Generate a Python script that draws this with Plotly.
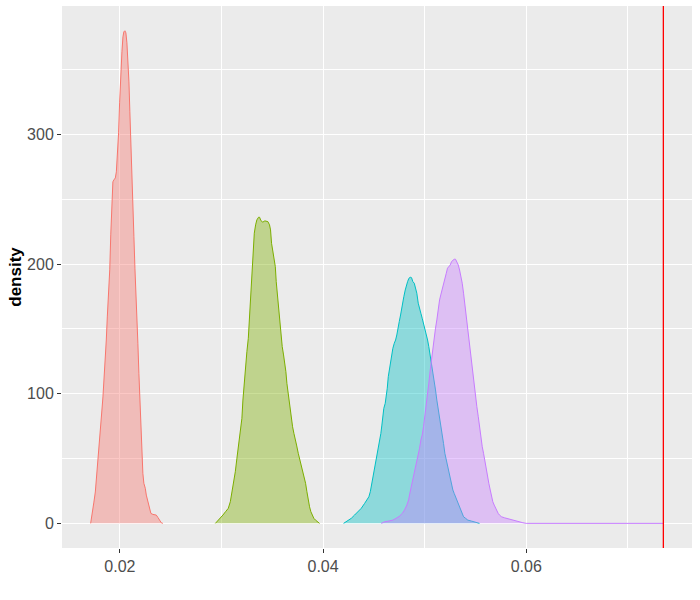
import plotly.graph_objects as go

# ---- data (x = value, y = density) ----
red_x = [0.01712, 0.01724, 0.01734, 0.01744, 0.01758, 0.01768, 0.01778, 0.01790, 0.01800, 0.01813,
         0.01823, 0.01833, 0.01843, 0.01856, 0.01866, 0.01876, 0.01890, 0.01900, 0.01910, 0.01921,
         0.01931, 0.01941, 0.01955, 0.01965, 0.01974, 0.01987, 0.01997, 0.02007, 0.02020, 0.02030,
         0.02039, 0.02049, 0.02059, 0.02069, 0.02079, 0.02089, 0.02098, 0.02112, 0.02122, 0.02128,
         0.02138, 0.02148, 0.02157, 0.02167, 0.02177, 0.02187, 0.02197, 0.02207, 0.02217, 0.02226,
         0.02236, 0.02250, 0.02260, 0.02273, 0.02282, 0.02292, 0.02305, 0.02325, 0.02358, 0.02374,
         0.02391, 0.02407, 0.02423]
red_y = [0.0, 7.9, 11.8, 16.4, 24.2, 35.0, 42.7, 55.0, 66.6, 77.4,
         87.4, 97.5, 109.0, 123.7, 141.4, 159.2, 177.7, 195.5, 222.5, 249.5,
         263.4, 264.9, 266.4, 271.1, 280.3, 301.2, 324.3, 345.9, 363.7, 375.2,
         379.1, 379.9, 378.3, 370.6, 357.5, 340.5, 317.4, 288.0, 262.0, 254.6,
         221.1, 196.8, 181.3, 162.0, 138.9, 115.7, 93.8, 73.3, 56.6, 38.6,
         30.9, 27.0, 21.8, 18.0, 14.1, 10.3, 7.7, 6.9, 6.4, 4.6,
         2.5, 0.5, 0.0]

green_x = [0.02940, 0.02965, 0.02988, 0.03014, 0.03040, 0.03067, 0.03087, 0.03102, 0.03119, 0.03136,
           0.03152, 0.03168, 0.03185, 0.03201, 0.03211, 0.03224, 0.03237, 0.03250, 0.03264, 0.03274,
           0.03283, 0.03293, 0.03303, 0.03313, 0.03323, 0.03336, 0.03348, 0.03365, 0.03375, 0.03388,
           0.03407, 0.03427, 0.03457, 0.03473, 0.03483, 0.03493, 0.03506, 0.03520, 0.03530, 0.03539,
           0.03549, 0.03559, 0.03569, 0.03579, 0.03589, 0.03598, 0.03611, 0.03624, 0.03634, 0.03644,
           0.03657, 0.03667, 0.03677, 0.03687, 0.03700, 0.03713, 0.03726, 0.03739, 0.03756, 0.03772,
           0.03788, 0.03801, 0.03815, 0.03828, 0.03841, 0.03854, 0.03867, 0.03880, 0.03894, 0.03909,
           0.03926, 0.03943, 0.03959, 0.03965]
green_y = [0.0, 2.0, 3.9, 6.4, 9.0, 11.6, 16.7, 23.1, 32.1, 39.8,
           50.2, 59.1, 72.0, 81.0, 95.1, 109.3, 120.8, 132.4, 142.7, 156.9,
           172.3, 186.4, 200.6, 212.2, 223.8, 230.2, 234.0, 236.1, 236.1, 233.5,
           232.3, 233.3, 232.7, 230.2, 226.3, 216.0, 209.6, 204.5, 198.0, 186.4,
           177.5, 167.1, 156.9, 147.8, 141.4, 136.3, 129.9, 123.5, 117.0, 108.0,
           100.3, 92.6, 84.9, 78.4, 74.5, 69.4, 65.6, 60.4, 54.0, 48.8,
           45.0, 39.8, 34.7, 30.9, 24.4, 18.0, 12.8, 9.0, 6.4, 3.9,
           2.5, 1.2, 0.5, 0.0]

cyan_x = [0.04202, 0.04244, 0.04278, 0.04310, 0.04343, 0.04376, 0.04409, 0.04431, 0.04451, 0.04465,
          0.04477, 0.04490, 0.04504, 0.04520, 0.04533, 0.04546, 0.04556, 0.04569, 0.04579, 0.04589,
          0.04598, 0.04612, 0.04622, 0.04632, 0.04642, 0.04655, 0.04664, 0.04674, 0.04687, 0.04701,
          0.04714, 0.04726, 0.04736, 0.04750, 0.04763, 0.04773, 0.04785, 0.04795, 0.04809, 0.04819,
          0.04832, 0.04845, 0.04858, 0.04871, 0.04884, 0.04898, 0.04910, 0.04923, 0.04937, 0.04950,
          0.04963, 0.04976, 0.04989, 0.05002, 0.05016, 0.05029, 0.05041, 0.05055, 0.05068, 0.05081,
          0.05094, 0.05107, 0.05120, 0.05134, 0.05147, 0.05159, 0.05173, 0.05186, 0.05199, 0.05213,
          0.05225, 0.05238, 0.05252, 0.05265, 0.05278, 0.05291, 0.05304, 0.05317, 0.05331, 0.05344,
          0.05356, 0.05370, 0.05383, 0.05403, 0.05425, 0.05459, 0.05491, 0.05533, 0.05540]
cyan_y = [0.0, 2.0, 3.9, 6.4, 9.0, 11.6, 15.4, 18.0, 20.5, 24.4,
          29.6, 34.7, 41.1, 46.3, 52.7, 57.9, 64.3, 69.4, 75.8, 82.3,
          88.7, 92.6, 97.7, 104.2, 113.1, 119.6, 124.7, 129.9, 135.0, 138.9,
          141.4, 145.3, 150.5, 155.6, 160.7, 165.9, 171.0, 174.8, 180.0, 183.9,
          186.4, 189.0, 189.8, 189.5, 186.4, 185.2, 181.3, 177.5, 169.8, 164.6,
          162.0, 158.2, 154.3, 150.5, 146.6, 141.4, 136.3, 129.9, 123.5, 117.0,
          110.6, 102.9, 95.1, 88.7, 82.3, 74.5, 68.1, 61.7, 54.0, 48.8,
          43.7, 38.6, 33.4, 29.6, 25.7, 23.1, 20.5, 17.4, 15.4, 12.8,
          10.3, 7.7, 5.1, 3.9, 2.5, 1.8, 1.2, 0.5, 0.0]

purple_x = [0.04573, 0.04605, 0.04648, 0.04687, 0.04720, 0.04753, 0.04780, 0.04802, 0.04825, 0.04842,
            0.04854, 0.04868, 0.04881, 0.04898, 0.04910, 0.04923, 0.04937, 0.04950, 0.04963, 0.04976,
            0.04989, 0.05002, 0.05016, 0.05029, 0.05041, 0.05055, 0.05068, 0.05081, 0.05094, 0.05107,
            0.05120, 0.05134, 0.05147, 0.05159, 0.05173, 0.05186, 0.05199, 0.05213, 0.05225, 0.05238,
            0.05252, 0.05265, 0.05278, 0.05291, 0.05304, 0.05317, 0.05331, 0.05344, 0.05356, 0.05370,
            0.05383, 0.05396, 0.05409, 0.05422, 0.05435, 0.05449, 0.05462, 0.05474, 0.05488, 0.05501,
            0.05514, 0.05528, 0.05540, 0.05553, 0.05567, 0.05580, 0.05593, 0.05606, 0.05619, 0.05632,
            0.05646, 0.05659, 0.05671, 0.05685, 0.05698, 0.05711, 0.05724, 0.05737, 0.05757, 0.05786,
            0.05836, 0.05885, 0.05934, 0.05967, 0.06000, 0.07350]
purple_y = [0.0, 1.2, 1.8, 2.5, 3.9, 5.6, 7.7, 10.3, 14.1, 18.0,
            23.1, 28.2, 33.4, 38.6, 42.4, 46.3, 51.4, 57.9, 64.3, 68.1,
            74.5, 82.3, 90.0, 97.7, 108.0, 118.3, 127.3, 136.3, 144.0, 150.5,
            156.9, 167.1, 172.3, 176.2, 180.0, 183.9, 187.7, 192.9, 196.8, 198.0,
            199.3, 201.9, 203.2, 203.7, 203.7, 201.9, 199.3, 195.4, 191.6, 185.2,
            177.5, 168.4, 163.3, 151.7, 142.7, 133.7, 124.7, 115.7, 105.4, 97.7,
            90.0, 82.3, 74.5, 66.8, 59.1, 54.0, 47.5, 41.1, 36.0, 30.9,
            25.7, 20.5, 16.7, 14.1, 11.6, 9.0, 7.7, 6.4, 5.1, 4.3,
            3.1, 2.0, 1.2, 0.5, 0.0, 0.0]

vline_x = 0.0735
x_ticks = [0.02, 0.04, 0.06]
x_labels = ["0.02", "0.04", "0.06"]
y_ticks = [0, 100, 200, 300]
y_labels = ["0", "100", "200", "300"]

series = [
    (red_x, red_y, "#F8766D", "rgba(248,118,109,0.4)"),
    (green_x, green_y, "#7CAE00", "rgba(124,174,0,0.4)"),
    (cyan_x, cyan_y, "#00BFC4", "rgba(0,191,196,0.4)"),
    (purple_x, purple_y, "#C77CFF", "rgba(199,124,255,0.4)"),
]

fig = go.Figure()
for xs, ys, col, fcol in series:
    fig.add_trace(go.Scatter(x=xs, y=ys, mode="lines", fill="tozeroy",
                             line=dict(color=col, width=1), fillcolor=fcol,
                             showlegend=False, hoverinfo="skip"))

fig.add_trace(go.Scatter(x=[vline_x, vline_x], y=[-19.0, 399.0], mode="lines",
                         line=dict(color="#FF0000", width=1.3),
                         showlegend=False, hoverinfo="skip", cliponaxis=True))

tickfont = dict(family="Liberation Sans, Arial, sans-serif", size=16, color="#4D4D4D")
fig.update_layout(
    width=700, height=600,
    margin=dict(l=62, r=8, t=6, b=52),
    paper_bgcolor="white", plot_bgcolor="#EBEBEB",
    showlegend=False,
    xaxis=dict(range=[0.01430, 0.07632], tickvals=x_ticks, ticktext=x_labels,
               automargin=False,
               showgrid=True, gridcolor="white", gridwidth=1.2, zeroline=False,
               showline=False, ticks="outside", ticklen=4, tickwidth=1, tickcolor="#333333",
               tickfont=tickfont,
               minor=dict(tickvals=[0.03, 0.05, 0.07], showgrid=True, gridcolor="white",
                          gridwidth=0.6, ticks="")),
    yaxis=dict(range=[-19.0, 399.0], tickvals=y_ticks, ticktext=y_labels,
               automargin=False,
               showgrid=True, gridcolor="white", gridwidth=1.2, zeroline=False,
               showline=False, ticks="outside", ticklen=4, tickwidth=1, tickcolor="#333333",
               tickfont=tickfont,
               title=dict(text="<b>density</b>", standoff=1,
                          font=dict(family="Liberation Sans, Arial, sans-serif", size=17, color="black")),
               minor=dict(tickvals=[50, 150, 250, 350], showgrid=True, gridcolor="white",
                          gridwidth=0.6, ticks="")),
)

fig.write_html("out.html", config={"displayModeBar": False},
               post_script="document.body.style.margin='0';document.body.style.overflow='hidden';")
